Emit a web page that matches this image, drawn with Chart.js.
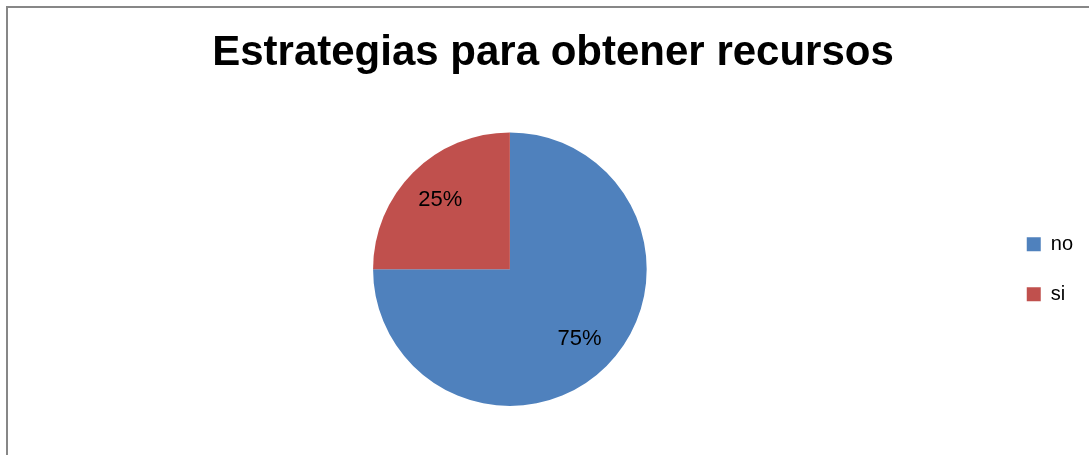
<!DOCTYPE html>
<html>
<head>
<meta charset="utf-8">
<script src="https://cdn.jsdelivr.net/npm/chart.js@4/dist/chart.umd.min.js"></script>
<style>
  html, body { margin: 0; padding: 0; background: #fff; overflow: hidden; }
  #marco {
    position: absolute; left: 6px; top: 6px;
    width: 1098px; height: 447px;
    border-top: 2px solid #878787; border-left: 2px solid #878787;
  }
</style>
</head>
<body>
<div id="marco"><canvas id="grafico-torta" width="1098" height="447"></canvas></div>
<script>
var categorias = ['no', 'si'];
var valores = [75, 25];
var colores = ['#4F81BD', '#C0504D'];
var titulo = 'Estrategias para obtener recursos';

// etiquetas de porcentaje dentro de cada sector
var etiquetasPorcentaje = {
    id: 'etiquetasPorcentaje',
    afterDatasetsDraw: function (chart) {
        var ctx = chart.ctx;
        var meta = chart.getDatasetMeta(0);
        var total = valores.reduce(function (a, b) { return a + b; }, 0);
        ctx.save();
        ctx.font = '22px "Liberation Sans", Arial, sans-serif';
        ctx.fillStyle = '#000';
        ctx.textAlign = 'center';
        ctx.textBaseline = 'middle';
        meta.data.forEach(function (arc, i) {
            var p = arc.getProps(['x', 'y', 'startAngle', 'endAngle', 'outerRadius'], true);
            var medio = (p.startAngle + p.endAngle) / 2;
            var r = p.outerRadius * 0.72;
            var texto = Math.round(valores[i] / total * 100) + '%';
            ctx.fillText(texto, p.x + Math.cos(medio) * r, p.y + Math.sin(medio) * r);
        });
        ctx.restore();
    }
};

var ctx = document.getElementById('grafico-torta');
new Chart(ctx, {
    type: 'pie',
    data: {
        labels: categorias,
        datasets: [{
            data: valores,
            backgroundColor: colores,
            borderWidth: 0
        }]
    },
    options: {
        responsive: false,
        animation: false,
        layout: { padding: { left: 15, right: 23, top: 0, bottom: 49 } },
        plugins: {
            title: {
                display: true,
                text: titulo,
                color: '#000',
                font: { family: '"Liberation Sans", Arial, sans-serif', size: 42, weight: 'bold', lineHeight: 1.2 },
                padding: { top: 20, bottom: 54 }
            },
            legend: {
                position: 'right',
                fullSize: false,
                labels: {
                    boxWidth: 14,
                    boxHeight: 14,
                    padding: 30,
                    color: '#000',
                    font: { family: '"Liberation Sans", Arial, sans-serif', size: 20 }
                }
            },
            tooltip: { enabled: false }
        }
    },
    plugins: [etiquetasPorcentaje]
});
</script>
</body>
</html>
